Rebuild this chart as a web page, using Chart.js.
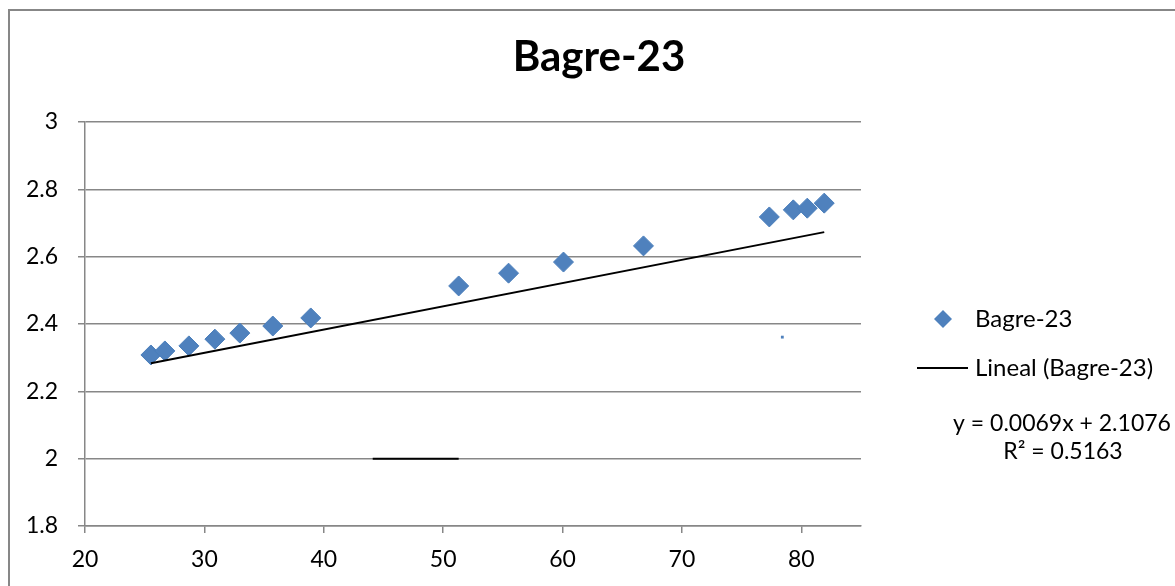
<!DOCTYPE html>
<html>
<head>
<meta charset="utf-8">
<title>Bagre-23</title>
<script src="https://cdn.jsdelivr.net/npm/chart.js@4.4.1/dist/chart.umd.min.js"></script>
<style>
    html, body { margin: 0; padding: 0; background: #fff; }
    #wrap { width: 1175px; height: 586px; position: relative; }
</style>
</head>
<body>
<div id="wrap"><canvas id="chart"></canvas></div>
<script>
// Données
const longueurs = [25.52, 26.69, 28.70, 30.88, 32.97, 35.73, 38.91, 51.30, 55.48, 60.08, 66.78, 77.32, 79.33, 80.50, 81.92];
const valeurs = [2.308, 2.320, 2.335, 2.355, 2.373, 2.394, 2.418, 2.513, 2.551, 2.584, 2.632, 2.718, 2.739, 2.744, 2.759];

// Tendance linéaire affichée
const pente = 0.0069;
const origine = 2.1076;
const r2 = 0.5163;
const tendanceX = [25.52, 81.92];

// Petits traits parasites visibles sur l'original
const traitX = [44.1, 51.3];
const traitY = [2, 2];
const pointIsoleX = [78.41];
const pointIsoleY = [2.361];

const titre = 'Bagre-23';
const nomSerie = 'Bagre-23';
const nomTendance = 'Lineal (Bagre-23)';

const GRIS = '#878787';
const BLEU = '#4F81BD';
const POLICE = 'Lato';

const pointsSerie = longueurs.map((x, i) => ({ x: x, y: valeurs[i] }));
const pointsTendance = tendanceX.map(x => ({ x: x, y: pente * x + origine }));
const pointsTrait = traitX.map((x, i) => ({ x: x, y: traitY[i] }));
const pointsIsoles = pointIsoleX.map((x, i) => ({ x: x, y: pointIsoleY[i] }));

// Titre, légende, équation et cadre
const decor = {
    id: 'decor',
    afterDraw(chart) {
        const ctx = chart.ctx;
        ctx.save();

        ctx.strokeStyle = GRIS;
        ctx.lineWidth = 2;
        ctx.strokeRect(9, 10, 1300, 700);

        ctx.fillStyle = '#000';
        ctx.textAlign = 'center';
        ctx.textBaseline = 'alphabetic';
        ctx.font = 'bold 42px ' + POLICE;
        ctx.fillText(titre, 599, 71);

        // marqueur de la série
        ctx.fillStyle = BLEU;
        ctx.beginPath();
        ctx.moveTo(943, 310);
        ctx.lineTo(952, 319);
        ctx.lineTo(943, 328);
        ctx.lineTo(934, 319);
        ctx.closePath();
        ctx.fill();

        ctx.strokeStyle = '#000';
        ctx.lineWidth = 2;
        ctx.beginPath();
        ctx.moveTo(917, 368);
        ctx.lineTo(968, 368);
        ctx.stroke();

        ctx.fillStyle = '#000';
        ctx.font = '24px ' + POLICE;
        ctx.textAlign = 'left';
        ctx.textBaseline = 'middle';
        ctx.fillText(nomSerie, 975, 319);
        ctx.fillText(nomTendance, 975, 368);

        ctx.font = '23px ' + POLICE;
        ctx.textAlign = 'center';
        ctx.fillText('y = ' + pente.toFixed(4) + 'x + ' + origine.toFixed(4), 1062, 424);
        ctx.fillText('R² = ' + r2.toFixed(4), 1063, 452);

        ctx.restore();
    }
};

const ctx = document.getElementById('chart').getContext('2d');

new Chart(ctx, {
    type: 'scatter',
    data: {
        datasets: [{
            label: nomSerie,
            data: pointsSerie,
            pointStyle: 'rectRot',
            pointRadius: 10,
            pointHoverRadius: 10,
            backgroundColor: BLEU,
            borderColor: '#4A7EBB',
            borderWidth: 1
        }, {
            label: nomTendance,
            data: pointsTendance,
            showLine: true,
            pointRadius: 0,
            borderColor: '#000',
            borderWidth: 2,
            order: -1
        }, {
            label: 'trait',
            data: pointsTrait,
            showLine: true,
            pointRadius: 0,
            borderColor: '#000',
            borderWidth: 2
        }, {
            label: 'point',
            data: pointsIsoles,
            pointStyle: 'rect',
            pointRadius: 2,
            backgroundColor: BLEU,
            borderWidth: 0
        }]
    },
    options: {
        responsive: true,
        maintainAspectRatio: false,
        animation: false,
        events: [],
        layout: {
            padding: { top: 122, right: 314, bottom: 0, left: 0 }
        },
        plugins: {
            legend: { display: false },
            title: { display: false },
            tooltip: { enabled: false }
        },
        scales: {
            x: {
                type: 'linear',
                min: 20,
                max: 85,
                afterBuildTicks: (scale) => {
                    scale.ticks = scale.ticks.filter(t => t.value % 10 === 0);
                },
                afterFit: (scale) => { scale.height = 60; },
                ticks: {
                    stepSize: 10,
                    padding: 13,
                    color: '#000',
                    font: { family: POLICE, size: 23 }
                },
                grid: {
                    drawOnChartArea: false,
                    tickLength: 7,
                    tickColor: GRIS,
                    lineWidth: 1.5
                },
                border: { color: GRIS, width: 1.5 }
            },
            y: {
                min: 1.8,
                max: 3,
                afterFit: (scale) => { scale.width = 85; },
                ticks: {
                    stepSize: 0.2,
                    padding: 20,
                    color: '#000',
                    font: { family: POLICE, size: 23 },
                    callback: (v) => String(Math.round(v * 10) / 10)
                },
                grid: {
                    color: GRIS,
                    lineWidth: 1.5,
                    tickLength: 7
                },
                border: { color: GRIS, width: 1.5 }
            }
        }
    },
    plugins: [decor]
});
</script>
</body>
</html>
